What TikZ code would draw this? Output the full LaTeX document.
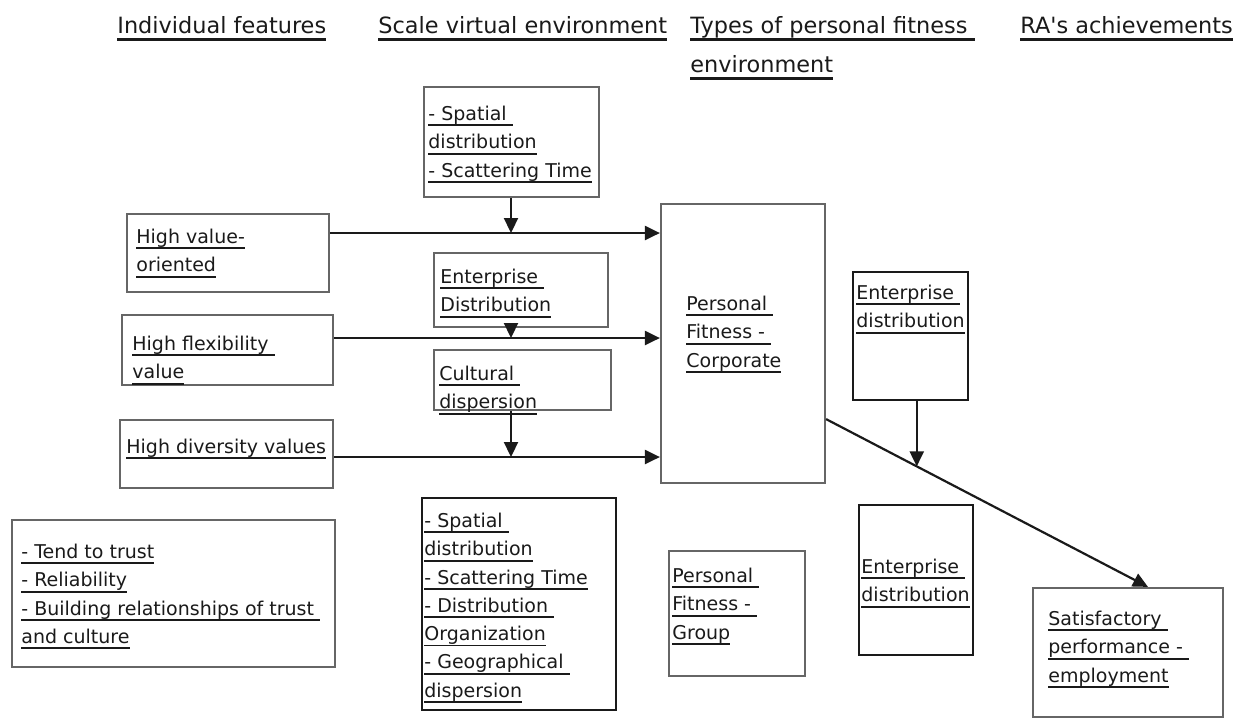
\documentclass[tikz,border=0pt]{standalone}
\usepackage{fontspec}
\newfontfamily\dv{DejaVu Sans}
\usetikzlibrary{arrows.meta,fit,calc}
\definecolor{ink}{HTML}{1A1A1A}
\definecolor{frame}{HTML}{666666}
\newcommand\ul[1]{\leavevmode\setbox0=\hbox{#1}\rlap{\rule[-2.9pt]{\wd0}{0.9pt}}\box0}
\newcommand\hul[1]{\leavevmode\setbox0=\hbox{#1}\rlap{\rule[-3.6pt]{\wd0}{1.2pt}}\box0}
\begin{document}
\begin{tikzpicture}[x=0.5pt,y=-0.5pt,
  box/.style={draw=frame, line width=1.1pt, inner sep=0pt},
  dbox/.style={draw=ink, line width=1.1pt, inner sep=0pt},
  txt/.style={anchor=north west, inner sep=0pt, align=left, yshift=8pt, text=ink, font=\dv\fontsize{9.5}{14.15}\selectfont},
  head/.style={anchor=north west, inner sep=0pt, align=left, yshift=9.5pt, text=ink, font=\dv\fontsize{11.2}{19.5}\selectfont},
  arr/.style={draw=ink, line width=1.1pt, -{Triangle[length=7.5pt,width=7pt]}}]
\useasboundingbox (0,0) rectangle (1244,720);
\fill[white] (0,0) rectangle (1244,720);
% headers
\node[head] (h1) at (117,33) {\rule{0pt}{9.5pt}\hul{Individual features}};
\node[head] (h2) at (378,33) {\rule{0pt}{9.5pt}\hul{Scale virtual environment}};
\node[head] (h3) at (690,33) {\rule{0pt}{9.5pt}\hul{Types of personal fitness\ }\\\hul{environment}};
\node[head] (h4) at (1020,33) {\rule{0pt}{9.5pt}\hul{RA's achievements}};
% boxes
\node[box, fit={(424,87) (599,197)}] (b1) {};
\node[box, fit={(127,214) (329,292)}] (b2) {};
\node[box, fit={(434,253) (608,327)}] (b3) {};
\node[box, fit={(122,315) (333,385)}] (b4) {};
\node[box, fit={(434,350) (611,410)}] (b5) {};
\node[box, fit={(120,420) (333,488)}] (b6) {};
\node[box, fit={(661,204) (825,483)}] (b7) {};
\node[dbox, fit={(853,272) (968,400)}] (b8) {};
\node[box, fit={(12,520) (335,667)}] (b9) {};
\node[dbox, fit={(422,498) (616,710)}] (b10) {};
\node[box, fit={(669,551) (805,676)}] (b11) {};
\node[dbox, fit={(859,505) (973,655)}] (b12) {};
\node[box, fit={(1033,588) (1223,717)}] (b13) {};
% texts
\node[txt] (t1) at (428,120) {\rule{0pt}{8pt}\ul{- Spatial\ }\\\ul{distribution}\\\ul{- Scattering Time}};
\node[txt] (t2) at (136,243) {\rule{0pt}{8pt}\ul{High value-}\\\ul{oriented}};
\node[txt] (t3) at (440,283) {\rule{0pt}{8pt}\ul{Enterprise\ }\\\ul{Distribution}};
\node[txt] (t4) at (132,350) {\rule{0pt}{8pt}\ul{High flexibility\ }\\\ul{value}};
\node[txt] (t5) at (439,380) {\rule{0pt}{8pt}\ul{Cultural\ }\\\ul{dispersion}};
\node[txt] (t6) at (126,453) {\rule{0pt}{8pt}\ul{High diversity values}};
\node[txt] (t7) at (686,310) {\rule{0pt}{8pt}\ul{Personal\ }\\\ul{Fitness -\ }\\\ul{Corporate}};
\node[txt] (t8) at (856,299) {\rule{0pt}{8pt}\ul{Enterprise\ }\\\ul{distribution}};
\node[txt] (t9) at (21,558) {\rule{0pt}{8pt}\ul{- Tend to trust}\\\ul{- Reliability}\\\ul{- Building relationships of trust\ }\\\ul{and culture}};
\node[txt] (t10) at (424,527) {\rule{0pt}{8pt}\ul{- Spatial\ }\\\ul{distribution}\\\ul{- Scattering Time}\\\ul{- Distribution\ }\\\ul{Organization}\\\ul{- Geographical\ }\\\ul{dispersion}};
\node[txt] (t11) at (672,582) {\rule{0pt}{8pt}\ul{Personal\ }\\\ul{Fitness -\ }\\\ul{Group}};
\node[txt] (t12) at (861,573) {\rule{0pt}{8pt}\ul{Enterprise\ }\\\ul{distribution}};
\node[txt] (t13) at (1048,625) {\rule{0pt}{8pt}\ul{Satisfactory\ }\\\ul{performance -\ }\\\ul{employment}};
% connectors
\coordinate (m1) at (511,233);
\coordinate (m2) at (511,338);
\coordinate (m3) at (511,457);
\draw[arr] (b1.south -| m1) -- (m1);
\draw[arr] (b2.east |- m1) -- (b7.west |- m1);
\draw[arr] (b3.south -| m2) -- (m2);
\draw[arr] (b4.east |- m2) -- (b7.west |- m2);
\draw[arr] (b5.south -| m3) -- (m3);
\draw[arr] (b6.east |- m3) -- (b7.west |- m3);
\coordinate (d0) at ($(b7.south east)+(0,-65)$);
\coordinate (d1) at ($(b13.north)+(20,0)$);
\draw[arr] (d0) -- (d1);
\coordinate (d2) at ($(d0)!0.2817!(d1)$);
\draw[arr] (b8.south -| d2) -- (d2);
\end{tikzpicture}
\end{document}
